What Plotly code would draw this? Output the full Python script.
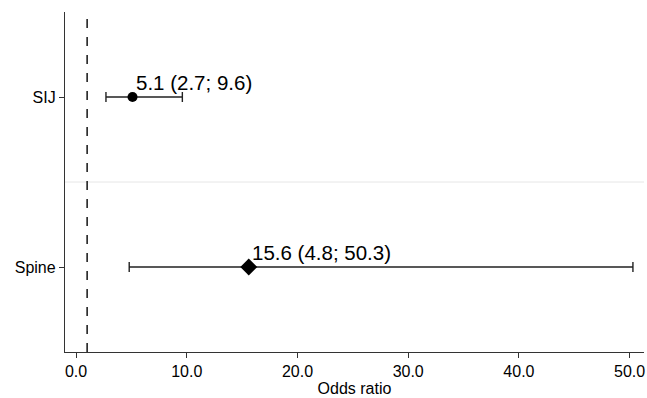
import plotly.graph_objects as go

categories = ["SIJ", "Spine"]
cat_pos = [1, 0]
odds = [5.1, 15.6]
lower = [2.7, 4.8]
upper = [9.6, 50.3]
symbols = ["circle", "diamond"]
x_ticks = [0, 10, 20, 30, 40, 50]
x_ticklabels = ["0.0", "10.0", "20.0", "30.0", "40.0", "50.0"]

FONT = "Liberation Sans, Arial, Helvetica"

fig = go.Figure()
for c, p, o, lo, hi, s in zip(categories, cat_pos, odds, lower, upper, symbols):
    fig.add_trace(go.Scatter(
        x=[o], y=[p], mode="markers",
        marker=dict(symbol=s, size=10 if s == "circle" else 13, color="black"),
        error_x=dict(type="data", symmetric=False, array=[hi - o], arrayminus=[o - lo],
                     color="#222222", thickness=1.4, width=5),
        showlegend=False, name=c,
    ))
    fig.add_annotation(x=o, y=p, text=f"{o:.1f} ({lo:.1f}; {hi:.1f})",
                       xanchor="left", yanchor="bottom", showarrow=False,
                       xshift=1, yshift=1,
                       font=dict(family=FONT, size=20.5, color="black"))

fig.add_shape(type="line", xref="x", yref="y", x0=1, x1=1, y0=-0.5, y1=1.5,
              line=dict(color="#222222", width=1.6, dash="dash"))
fig.add_shape(type="line", xref="paper", yref="y", x0=0, x1=1, y0=0.5, y1=0.5,
              line=dict(color="#e6e6e6", width=1), layer="below")

fig.update_layout(
    width=647, height=398,
    margin=dict(l=65, r=3, t=12, b=46),
    plot_bgcolor="white", paper_bgcolor="white",
    font=dict(family=FONT, size=16, color="black"),
    xaxis=dict(range=[-1, 51.3], tickvals=x_ticks, ticktext=x_ticklabels,
               showgrid=False, zeroline=False, showline=True, linecolor="#333333",
               linewidth=1.3, ticks="outside", ticklen=5, tickcolor="#333333",
               tickfont=dict(size=16),
               title=dict(text="Odds ratio", standoff=3, font=dict(size=16))),
    yaxis=dict(range=[-0.5, 1.5], tickvals=cat_pos, ticktext=categories,
               showgrid=False, zeroline=False, showline=True, linecolor="#333333",
               linewidth=1.3, ticks="outside", ticklen=5, tickcolor="#333333",
               tickfont=dict(size=16)),
)

fig.write_html(
    "out.html",
    config={"displayModeBar": False},
    post_script="document.body.style.margin='0';document.body.style.overflow='hidden';",
)
